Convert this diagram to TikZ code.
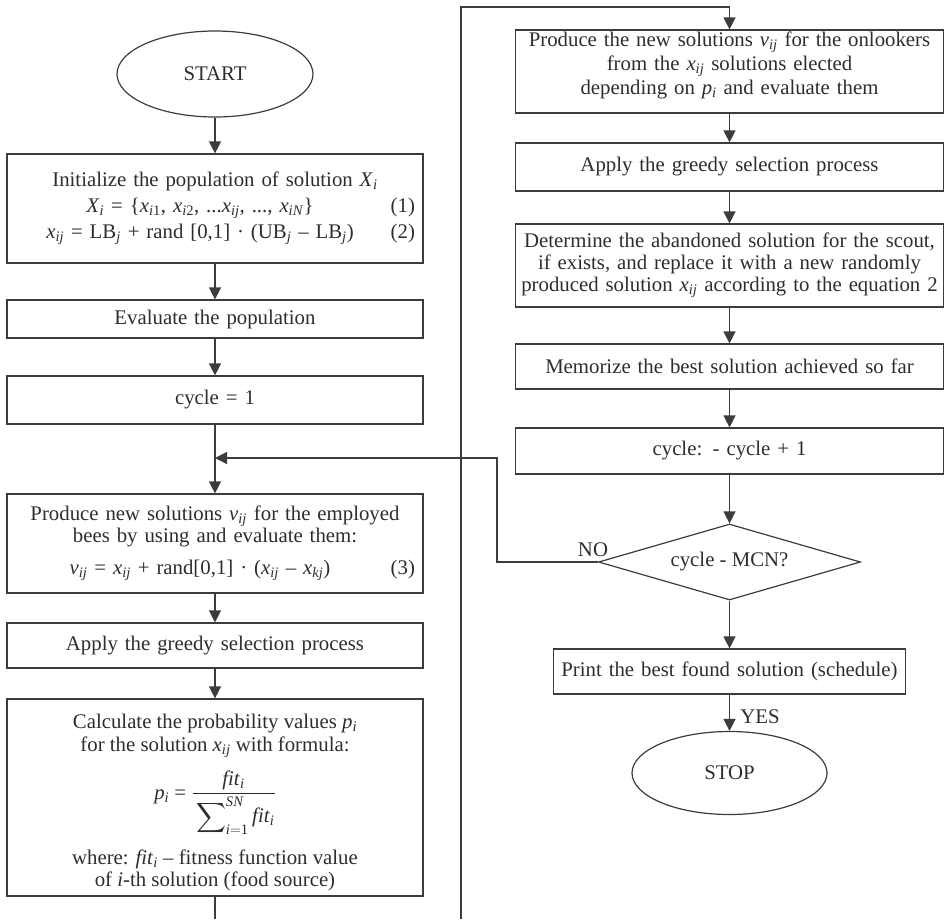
\documentclass[tikz,border=0pt]{standalone}
\usepackage{amsmath}
\usepackage{fontspec}
\setmainfont{Liberation Serif}
\usetikzlibrary{arrows.meta,shapes.geometric}
\definecolor{lc}{RGB}{60,60,60}
\definecolor{tc}{RGB}{45,45,45}
\newcommand\iv[2]{\textit{#1}\textsubscript{\textit{#2}}}
\newcommand\fs{\fontsize{20.8}{23}\selectfont}
\newcommand\eqline[2]{\makebox[\linewidth]{\hspace*{-30pt}#1}\llap{#2\hspace*{8pt}}}
\tikzset{
  box/.style={draw=lc, line width=1.2pt, align=center, inner sep=0pt, text=tc, font=\fs, text width=#1},
  box/.default=400pt,
  plainbox/.style={draw=lc, line width=1.2pt, inner sep=0pt, text=tc, font=\fs},
  oval/.style={draw=lc, line width=1.2pt, ellipse, inner sep=0pt, text=tc, font=\fs},
  conn/.style={draw=lc, line width=1.3pt},
  arr/.style={conn, -{Triangle[width=12pt,length=12pt]}},
  lbl/.style={text=tc, font=\fs, inner sep=0pt}
}
\begin{document}
\begin{tikzpicture}[x=1pt,y=-1pt]
\useasboundingbox (0,0) rectangle (949,919);
% left column
\node[oval, minimum width=196pt, minimum height=86pt] (start) at (215,74) {START};
\node[box=416pt, minimum width=416pt, minimum height=109pt] (init) at (215,208.5) {Initialize the population of solution \iv{X}{i}\\[3pt]
\eqline{\iv{X}{i} = \{\textit{x}\textsubscript{\textit{i}1}, \textit{x}\textsubscript{\textit{i}2}, ...\iv{x}{ij}, ..., \textit{x}\textsubscript{\textit{iN}}\}}{(1)}\\[3pt]
\eqline{\iv{x}{ij} = LB\textsubscript{\textit{j}} + rand [0,1] \textperiodcentered\ (UB\textsubscript{\textit{j}} -- LB\textsubscript{\textit{j}})}{(2)}};
\node[box=416pt, minimum width=416pt, minimum height=38pt] (eval) at (215,319) {Evaluate the population};
\node[box=416pt, minimum width=416pt, minimum height=48pt] (cyc1) at (215,400) {cycle = 1};
\node[box=416pt, minimum width=416pt, minimum height=99pt] (empl) at (215,543.5) {Produce new solutions \iv{v}{ij} for the employed\\[-1pt] bees by using and evaluate them:\\[9pt]
\eqline{\iv{v}{ij} = \iv{x}{ij} + rand[0,1] \textperiodcentered\ (\iv{x}{ij} -- \iv{x}{kj})}{(3)}};
\node[box=416pt, minimum width=416pt, minimum height=45pt] (greedL) at (215,645.5) {Apply the greedy selection process};
\node[plainbox, minimum width=416pt, minimum height=197pt] (calc) at (215,797.5) {\begin{tabular}{@{}c@{}}
\rule{0pt}{26pt}Calculate the probability values \iv{p}{i}\\
for the solution \iv{x}{ij} with formula:\\[25pt]
\iv{p}{i} = \raisebox{0pt}[0pt][0pt]{$\dfrac{\text{\iv{fit}{i}}\rule[-4pt]{0pt}{4pt}}{\rule{0pt}{26pt}\displaystyle\sum\nolimits_{\textit{i}=\textup{1}}^{\textit{SN}}\text{\iv{fit}{i}}}$}\\[42pt]
where: \iv{fit}{i} -- fitness function value\\[-1pt]
of \textit{i}-th solution (food source)
\end{tabular}};
% right column
\node[box=428pt, minimum width=428pt, minimum height=83pt] (onl) at (729.5,71.5) {Produce the new solutions \iv{v}{ij} for the onlookers\\[1pt] from the \iv{x}{ij} solutions elected\\[1pt] depending on \iv{p}{i} and evaluate them\rule[-17pt]{0pt}{1pt}};
\node[box=428pt, minimum width=428pt, minimum height=48pt] (greedR) at (729.5,167) {Apply the greedy selection process};
\node[box=428pt, minimum width=428pt, minimum height=83pt] (scout) at (729.5,265.5) {Determine the abandoned solution for the scout,\\[-1pt] if exists, and replace it with a new randomly\\[-1pt] produced solution \iv{x}{ij} according to the equation 2};
\node[box=428pt, minimum width=428pt, minimum height=45pt] (memo) at (729.5,366.5) {Memorize the best solution achieved so far};
\node[box=428pt, minimum width=428pt, minimum height=46pt] (cycR) at (729.5,451) {cycle: - cycle + 1};
\node[draw=lc, line width=1.2pt, diamond, aspect=3.45, inner sep=0pt, minimum width=262pt, minimum height=76pt, text=tc, font=\fs] (dia) at (729.5,562) {cycle - MCN?};
\node[box=352pt, minimum width=352pt, minimum height=45pt] (print) at (729.5,671.5) {Print the best found solution (schedule)};
\node[oval, minimum width=195pt, minimum height=83pt] (stop) at (729.5,773) {STOP};
% labels
\node[lbl] (no) at (593,550) {NO};
\node[lbl] (yes) at (760,717) {YES};
% coordinates
\coordinate (join) at (215,458);
\coordinate (nb1) at (497,562);
\coordinate (nb2) at (497,458);
\coordinate (lbot) at (215,919);
\coordinate (rbot) at (461,919);
\coordinate (rtop) at (461,7);
\coordinate (rtop2) at (729.5,7);
% connectors
\draw[arr] (start) -- (init);
\draw[arr] (init) -- (eval);
\draw[arr] (eval) -- (cyc1);
\draw[arr] (cyc1) -- (empl);
\draw[arr] (empl) -- (greedL);
\draw[arr] (greedL) -- (calc);
\draw[conn] (calc) -- (lbot);
\draw[arr] (rbot) -- (rtop) -- (rtop2) -- (onl);
\draw[arr] (onl) -- (greedR);
\draw[arr] (greedR) -- (scout);
\draw[arr] (scout) -- (memo);
\draw[arr] (memo) -- (cycR);
\draw[arr] (cycR) -- (dia);
\draw[arr] (dia) -- (print);
\draw[arr] (print) -- (stop);
\draw[arr] (dia.west) -- (nb1) -- (nb2) -- (join);
\end{tikzpicture}
\end{document}
